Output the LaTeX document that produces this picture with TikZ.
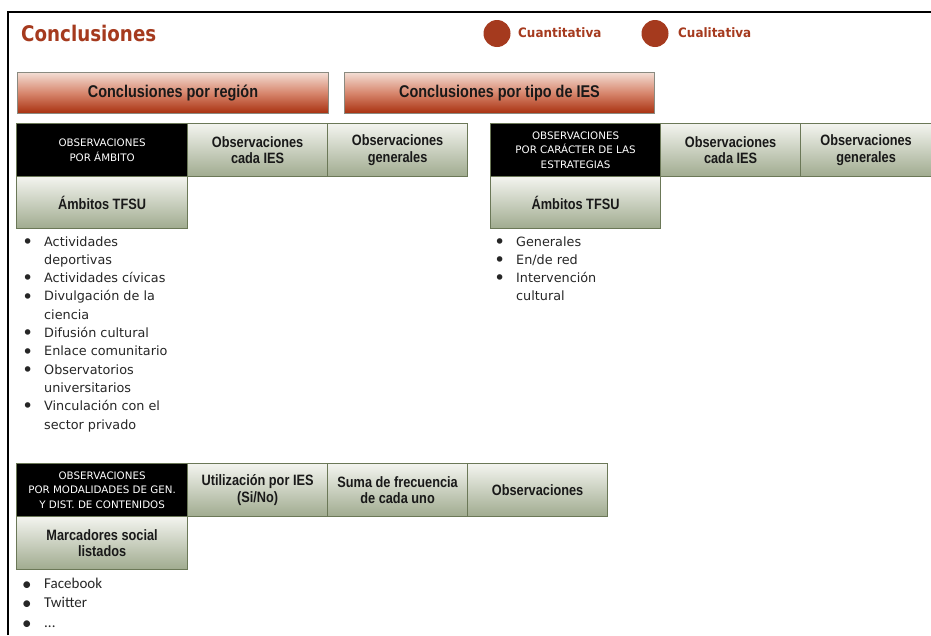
\documentclass[tikz,border=0pt]{standalone}
\usepackage{fontspec}
\setmainfont{DejaVu Sans}
\newfontface\titlefont[FakeStretch=0.85]{DejaVu Sans Bold}
\newfontface\legfont[FakeStretch=0.92]{DejaVu Sans Bold}
\newfontface\cellfont[FakeStretch=0.85]{Liberation Sans Bold}
\newfontface\capsfont{DejaVu Sans}
\newfontface\listfont{DejaVu Sans}
\newfontface\calfont{Carlito}
\newcommand\bigbul{{\fontsize{19}{0}\selectfont\raisebox{-2.2pt}{\textbullet}}}
\definecolor{rust}{HTML}{A53A1E}
\definecolor{gtop}{HTML}{F3F4EF}
\definecolor{gbot}{HTML}{A0AB8F}
\definecolor{gedge}{HTML}{6B7857}
\definecolor{rtop}{HTML}{F3DDD4}
\definecolor{rmid}{HTML}{D7866D}
\definecolor{rbot}{HTML}{A8300F}
\definecolor{redge}{HTML}{8A8A80}
\begin{document}
\begin{tikzpicture}[x=1pt,y=-1pt,
  gcell/.style={draw=gedge, line width=1.2pt, top color=gtop, bottom color=gbot, anchor=north west, align=center, inner sep=0pt, font=\cellfont\fontsize{15}{16.5}\selectfont, text=black!90},
  bcell/.style={draw=gedge, line width=1.2pt, fill=black, anchor=north west, align=center, inner sep=0pt, text=white, font=\capsfont\fontsize{10.3}{14.5}\selectfont},
  rbtn/.style={draw=redge, line width=1pt, top color=rtop, bottom color=rbot, middle color=rmid, anchor=north west, inner sep=0pt, minimum height=41pt, font=\cellfont\fontsize{17}{18}\selectfont, text=black!90},
  dot/.style={circle, fill=rust, minimum size=27pt, inner sep=0pt},
  legend/.style={anchor=west, text=rust, font=\legfont\fontsize{13}{15}\selectfont, inner sep=0pt},
  listbox/.style={anchor=base west, inner sep=0pt, text=black!85}
]
\useasboundingbox (0,0) rectangle (931,635);
\draw[line width=2pt] (8,635) -- (8,12) -- (931,12);
% title and legend
\node[anchor=west, text=rust, font=\titlefont\fontsize{21.5}{24}\selectfont, inner sep=0pt] (title) at (21,33) {Conclusiones};
\node[dot] (d1) at (497,33.5) {};
\node[legend] (lg1) at (518,33) {Cuantitativa};
\node[dot] (d2) at (655,33.5) {};
\node[legend] (lg2) at (678,33) {Cualitativa};
% buttons
\node[rbtn, minimum width=311pt] (btn1) at (17,72) {Conclusiones por región};
\node[rbtn, minimum width=310pt] (btn2) at (344,72) {Conclusiones por tipo de IES};
% table 1
\node[bcell, minimum width=171pt, minimum height=53pt] (t1a) at (16,123) {OBSERVACIONES\\POR ÁMBITO};
\node[gcell, minimum width=140pt, minimum height=53pt] (t1b) at (187,123) {Observaciones\\cada IES};
\node[gcell, minimum width=140pt, minimum height=53pt] (t1c) at (327,123) {Observaciones\\generales};
\node[gcell, minimum width=171pt, minimum height=52pt] (t1d) at (16,176) {Ámbitos TFSU};
% table 2
\node[bcell, minimum width=170pt, minimum height=53pt] (t2a) at (490,123) {OBSERVACIONES\\POR CARÁCTER DE LAS\\ESTRATEGIAS};
\node[gcell, minimum width=140pt, minimum height=53pt] (t2b) at (660,123) {Observaciones\\cada IES};
\node[gcell, minimum width=131pt, minimum height=53pt] (t2c) at (800,123) {Observaciones\\generales};
\node[gcell, minimum width=170pt, minimum height=52pt] (t2d) at (490,176) {Ámbitos TFSU};
% table 3
\node[bcell, minimum width=171pt, minimum height=53pt] (t3a) at (16,463) {OBSERVACIONES\\POR MODALIDADES DE GEN.\\Y DIST. DE CONTENIDOS};
\node[gcell, minimum width=140pt, minimum height=53pt] (t3b) at (187,463) {Utilización por IES\\(Si/No)};
\node[gcell, minimum width=140pt, minimum height=53pt] (t3c) at (327,463) {Suma de frecuencia\\de cada uno};
\node[gcell, minimum width=140pt, minimum height=53pt] (t3d) at (467,463) {Observaciones};
\node[gcell, minimum width=171pt, minimum height=53pt] (t3e) at (16,516) {Marcadores social\\listados};
% lists
\node[listbox, font=\listfont\fontsize{12.8}{18.3}\selectfont] (list1) at (22,246) {\begin{tabular}[t]{@{}p{22pt}@{}l@{}}
\bigbul & Actividades\\
 & deportivas\\
\bigbul & Actividades cívicas\\
\bigbul & Divulgación de la\\
 & ciencia\\
\bigbul & Difusión cultural\\
\bigbul & Enlace comunitario\\
\bigbul & Observatorios\\
 & universitarios\\
\bigbul & Vinculación con el\\
 & sector privado
\end{tabular}};
\node[listbox, font=\listfont\fontsize{12.8}{18.3}\selectfont] (list2) at (494,246) {\begin{tabular}[t]{@{}p{22pt}@{}l@{}}
\bigbul & Generales\\
\bigbul & En/de red\\
\bigbul & Intervención\\
 & cultural
\end{tabular}};
\node[listbox, font=\calfont\fontsize{15}{19.5}\selectfont] (list3) at (22,588) {\begin{tabular}[t]{@{}p{22pt}@{}l@{}}
\bigbul & Facebook\\
\bigbul & Twitter\\
\bigbul & ...
\end{tabular}};
\end{tikzpicture}
\end{document}
